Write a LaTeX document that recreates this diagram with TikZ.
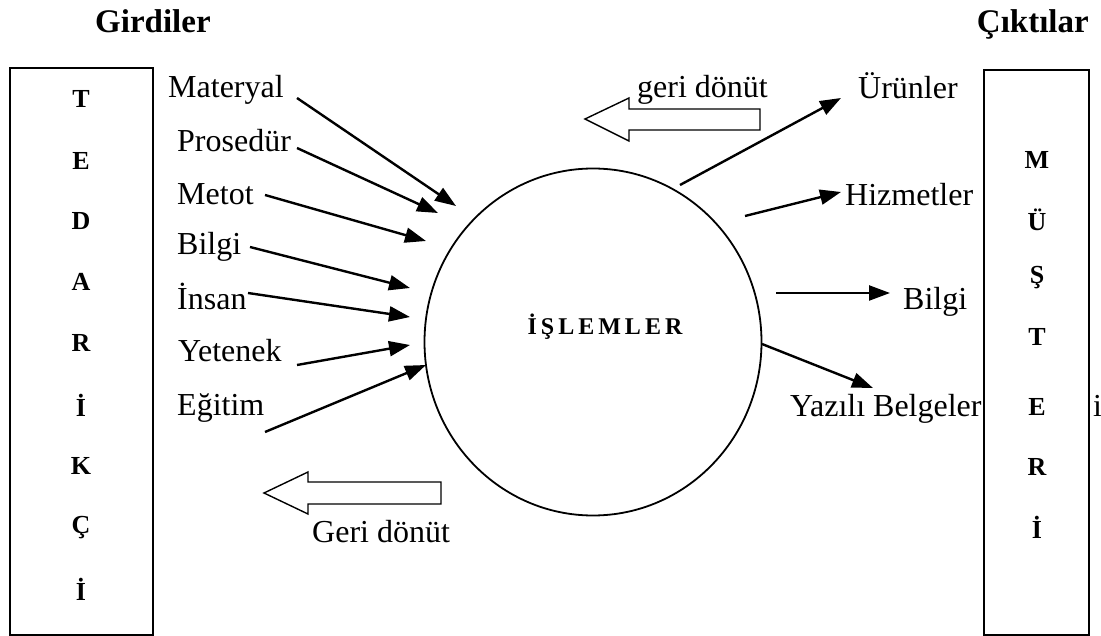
\documentclass[tikz,border=0pt]{standalone}
\usepackage{fontspec}
\setmainfont{Liberation Serif}
\usetikzlibrary{arrows.meta,shapes.geometric}
\begin{document}
\begin{tikzpicture}[x=1pt,y=-1pt,
  lbl/.style={inner sep=0pt,anchor=base west,font=\fontsize{32}{38}\selectfont},
  head/.style={inner sep=0pt,font=\fontsize{33}{38}\selectfont\bfseries},
  letter/.style={inner sep=0pt,font=\fontsize{26}{30}\selectfont\bfseries},
  flow/.style={line width=2.4pt,-{Triangle[length=21pt,width=15pt]}},
  frame/.style={draw,line width=1.8pt,inner sep=0pt},
  fb/.style={draw,line width=1.4pt,line join=miter}]
\useasboundingbox (0,0) rectangle (1101,636);

% headings
\node[head,anchor=base west] (girdi) at (95,33) {Girdiler};
\node[head,anchor=base east] (cikti) at (1089,33) {Çıktılar};

% supplier box
\node[frame,minimum width=143pt,minimum height=567pt] (tbox) at (81.5,351.5) {};
\foreach \ch/\yy [count=\i] in {T/99,E/161,D/221,A/282,R/343,İ/405,K/466,Ç/528,İ/589}
  \node[letter] (t\i) at (81,\yy) {\ch};

% customer box
\node[frame,minimum width=105pt,minimum height=565pt] (mbox) at (1036.5,352.5) {};
\foreach \ch/\yy [count=\i] in {M/160,Ü/220,Ş/278,T/337,E/407,R/467,İ/527}
  \node[letter] (m\i) at (1037,\yy) {\ch};

% process
\node[draw,line width=1.8pt,ellipse,minimum width=337pt,minimum height=347pt,inner sep=0pt] (proc) at (593,342) {};
\node[inner sep=0pt,font=\fontsize{24}{28}\selectfont\bfseries] (ptxt) at (605,327)
  {İ\hspace{4pt}Ş\hspace{4pt}L\hspace{4pt}E\hspace{4pt}M\hspace{4pt}L\hspace{4pt}E\hspace{4pt}R};

% inputs
\node[lbl] (in1) at (168,98) {Materyal};
\node[lbl] (in2) at (177,152) {Prosedür};
\node[lbl] (in3) at (177,205) {Metot};
\node[lbl] (in4) at (177,255) {Bilgi};
\node[lbl] (in5) at (177,310) {İnsan};
\node[lbl] (in6) at (178,362) {Yetenek};
\node[lbl] (in7) at (177,415) {Eğitim};

\coordinate (s1) at (297,98);  \coordinate (e1) at (456,206);
\coordinate (s2) at (297,148); \coordinate (e2) at (438,213);
\coordinate (s3) at (265,195); \coordinate (e3) at (426,241);
\coordinate (s4) at (250,247); \coordinate (e4) at (410,288);
\coordinate (s5) at (248,293); \coordinate (e5) at (410,317);
\coordinate (s6) at (297,365); \coordinate (e6) at (410,345);
\coordinate (s7) at (265,432); \coordinate (e7) at (426,365);
\foreach \i in {1,...,7} \draw[flow] (s\i) -- (e\i);

% outputs
\node[lbl] (out1) at (858,99) {Ürünler};
\node[lbl] (out2) at (845,206) {Hizmetler};
\node[lbl] (out3) at (903,310) {Bilgi};
\node[lbl] (out4) at (790,417) {Yazılı Belgeler};
\node[lbl] (cut) at (1093,417) {i};

\coordinate (o1s) at (680,185); \coordinate (o1e) at (841,98);
\coordinate (o2s) at (745,216); \coordinate (o2e) at (841,192);
\coordinate (o3s) at (776,293); \coordinate (o3e) at (890,293);
\coordinate (o4s) at (762,344); \coordinate (o4e) at (873,388);
\foreach \i in {1,...,4} \draw[flow] (o\i s) -- (o\i e);

% feedback arrows
\draw[fb] (585,119) -- (629,98) -- (629,109) -- (760,109) -- (760,130) -- (629,130) -- (629,141) -- cycle;
\node[lbl] (fb1) at (637,98) {geri dönüt};
\draw[fb] (264,493) -- (308,472) -- (308,482) -- (441,482) -- (441,504) -- (308,504) -- (308,514) -- cycle;
\node[lbl] (fb2) at (312,542) {Geri dönüt};
\end{tikzpicture}
\end{document}
